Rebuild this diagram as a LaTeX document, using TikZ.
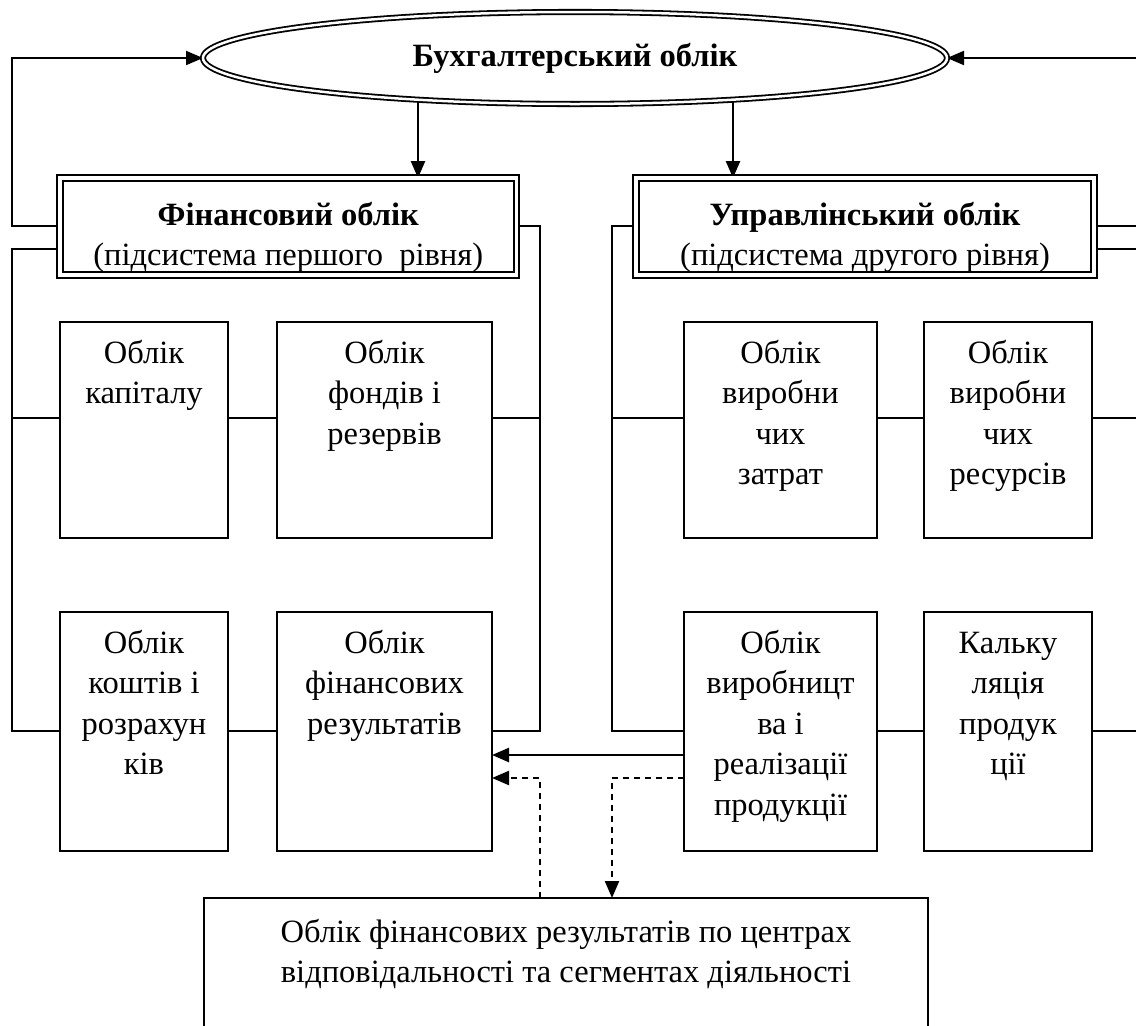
\documentclass[tikz,border=0pt]{standalone}
\usepackage{fontspec}
\setmainfont{Liberation Serif}
\usetikzlibrary{arrows.meta,shapes.geometric,backgrounds}
\newcommand\boxtxt[1]{\begin{tabular}[t]{@{}c@{}}#1\end{tabular}}
\begin{document}
\begin{tikzpicture}[x=1pt,y=-1pt,
  every node/.style={font=\fontsize{32.5pt}{40.5pt}\selectfont},
  box/.style={draw,line width=1.9pt,rectangle,inner sep=0pt,outer sep=0pt,anchor=north west,fill=white},
  dbox/.style={draw,double,double distance=3.5pt,line width=2pt,rectangle,inner sep=0pt,outer sep=0pt,anchor=north west,fill=white},
  ell/.style={draw,double,double distance=2.5pt,line width=1.8pt,ellipse,inner sep=0pt,outer sep=0pt,fill=white},
  txt/.style={anchor=base,inner sep=0pt},
  ln/.style={line width=1.7pt},
  tip/.style={-{Triangle[length=17pt,width=14pt]}},
  arr/.style={line width=2pt,tip},
  tarr/.style={line width=2.5pt,tip},
  darr/.style={line width=2.2pt,dash pattern=on 6pt off 5pt,tip}
]
\useasboundingbox (0,0) rectangle (1136,1026);
\clip (0,0) rectangle (1136,1026);

% helper coordinates
\coordinate (L) at (12,0);
\coordinate (M1) at (540,0);
\coordinate (M2) at (612,0);
\coordinate (R) at (1136,0);
\coordinate (XA) at (418,0);
\coordinate (XB) at (733,0);
\coordinate (YE) at (0,58);
\coordinate (YU) at (0,226);
\coordinate (YD) at (0,249);
\coordinate (Y1) at (0,418);
\coordinate (Y2) at (0,731);
\coordinate (YS) at (0,755);
\coordinate (YT) at (0,778);

% main nodes
\node[ell,minimum width=744pt,minimum height=92pt] (ell) at (575,58) {\textbf{Бухгалтерський облік}};

\node[dbox,minimum width=456.5pt,minimum height=97pt] (fin) at (60,178) {};
\node[txt] (fint) at (fin.north |- 0,225) {\boxtxt{\textbf{Фінансовий облік}\\(підсистема першого\ \ рівня)}};

\node[dbox,minimum width=458pt,minimum height=97pt] (upr) at (636,178) {};
\node[txt] (uprt) at (upr.north |- 0,225) {\boxtxt{\textbf{Управлінський облік}\\(підсистема другого рівня)}};

\node[box,minimum width=168pt,minimum height=216pt] (b1) at (60,322) {};
\node[box,minimum width=215pt,minimum height=216pt] (b2) at (277,322) {};
\node[box,minimum width=193pt,minimum height=216pt] (b3) at (684,322) {};
\node[box,minimum width=168pt,minimum height=216pt] (b4) at (924,322) {};
\node[box,minimum width=168pt,minimum height=239pt] (b5) at (60,612) {};
\node[box,minimum width=215pt,minimum height=239pt] (b6) at (277,612) {};
\node[box,minimum width=193pt,minimum height=239pt] (b7) at (684,612) {};
\node[box,minimum width=168pt,minimum height=239pt] (b8) at (924,612) {};

\node[txt] (t1) at (b1.north |- 0,363) {\boxtxt{Облік\\капіталу}};
\node[txt] (t2) at (b2.north |- 0,363) {\boxtxt{Облік\\фондів і\\резервів}};
\node[txt] (t3) at (b3.north |- 0,363) {\boxtxt{Облік\\виробни\\чих\\затрат}};
\node[txt] (t4) at (b4.north |- 0,363) {\boxtxt{Облік\\виробни\\чих\\ресурсів}};
\node[txt] (t5) at (b5.north |- 0,653) {\boxtxt{Облік\\коштів і\\розрахун\\ків}};
\node[txt] (t6) at (b6.north |- 0,653) {\boxtxt{Облік\\фінансових\\результатів}};
\node[txt] (t7) at (b7.north |- 0,653) {\boxtxt{Облік\\виробницт\\ва і\\реалізації\\продукції}};
\node[txt] (t8) at (b8.north |- 0,653) {\boxtxt{Кальку\\ляція\\продук\\ції}};

\node[box,minimum width=724pt,minimum height=200pt] (bot) at (204,898) {};
\node[txt] (bott) at (bot.north |- 0,942) {\boxtxt{Облік фінансових результатів по центрах\\відповідальності та сегментах діяльності}};

\begin{scope}[on background layer]
% ellipse arrows
\draw[arr] (fin.west |- YU) -- (L |- YU) |- (ell.west);
\draw[arr] (R |- YE) -- (ell.east);
\draw[tarr] (ell.center -| XA) -- (fin.north -| XA);
\draw[tarr] (ell.center -| XB) -- (upr.north -| XB);

% left buses
\draw[ln] (fin.west |- YD) -- (L |- YD) -- (L |- Y2) -- (b5.west |- Y2);
\draw[ln] (L |- Y1) -- (b1.west |- Y1);
\draw[ln] (b1.east |- Y1) -- (b2.west |- Y1);
\draw[ln] (b2.east |- Y1) -- (M1 |- Y1);
\draw[ln] (b5.east |- Y2) -- (b6.west |- Y2);
\draw[ln] (fin.east |- YU) -- (M1 |- YU) -- (M1 |- Y2) -- (b6.east |- Y2);

% right buses
\draw[ln] (upr.west |- YU) -- (M2 |- YU) -- (M2 |- Y2) -- (b7.west |- Y2);
\draw[ln] (M2 |- Y1) -- (b3.west |- Y1);
\draw[ln] (b3.east |- Y1) -- (b4.west |- Y1);
\draw[ln] (b4.east |- Y1) -- (R |- Y1);
\draw[ln] (b7.east |- Y2) -- (b8.west |- Y2);
\draw[ln] (b8.east |- Y2) -- (R |- Y2);
\draw[ln] (upr.east |- YU) -- (R |- YU);
\draw[ln] (upr.east |- YD) -- (R |- YD);

% result arrows
\draw[tarr] (b7.west |- YS) -- (b6.east |- YS);
\draw[darr] (b7.west |- YT) -- (M2 |- YT) -- (M2 |- bot.north);
\draw[darr] (M1 |- bot.north) -- (M1 |- YT) -- (b6.east |- YT);
\end{scope}
\end{tikzpicture}
\end{document}
